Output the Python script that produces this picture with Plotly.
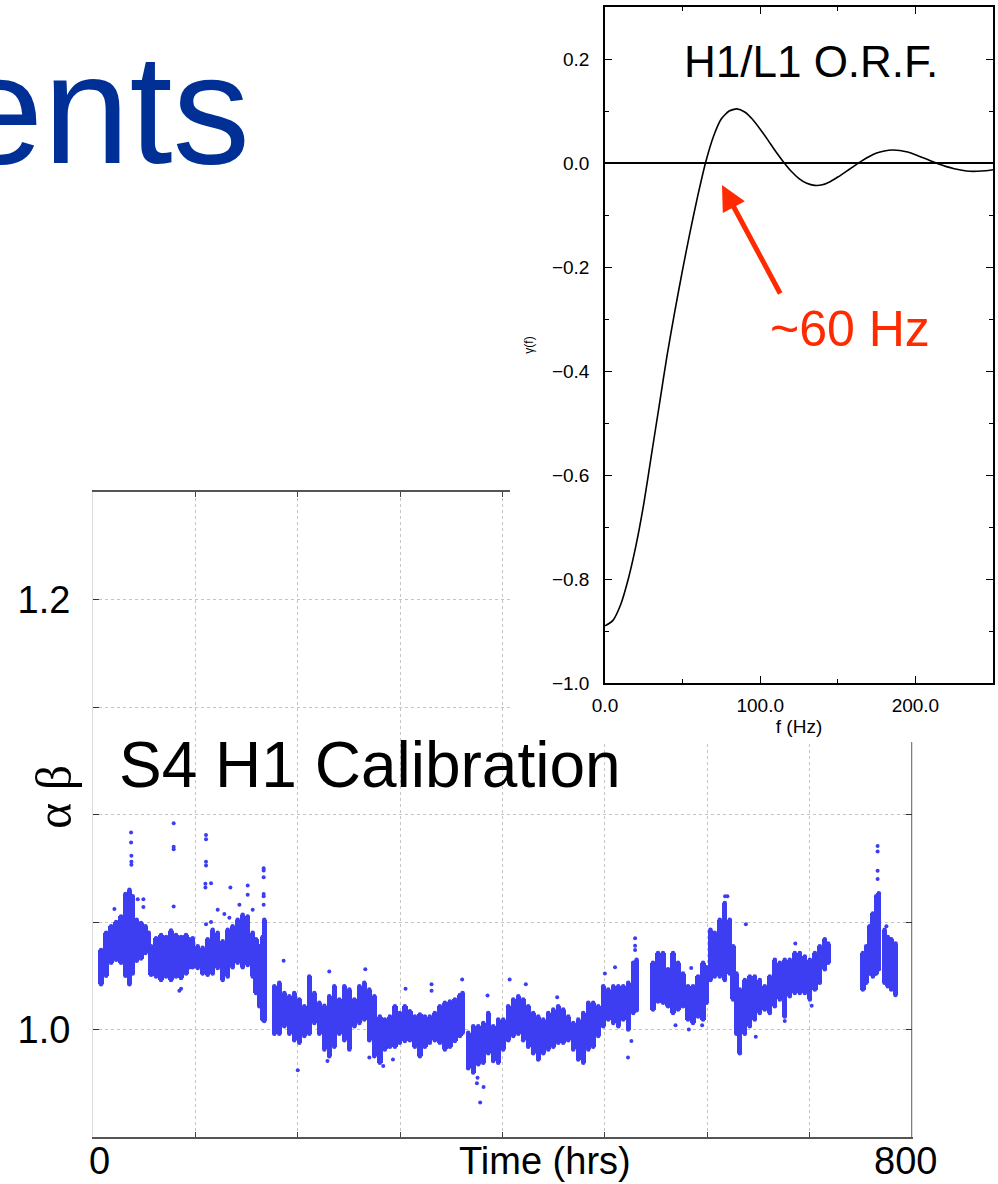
import plotly.graph_objects as go

# ---------------------------------------------------------------
# H1/L1 overlap reduction function gamma(f)
# ---------------------------------------------------------------
orf_freq = [0, 5, 10, 15, 20, 25, 30, 35, 40, 45, 50, 55, 60, 65, 70, 75, 80, 85,
            90, 95, 100, 105, 110, 115, 120, 125, 130, 135, 140, 145, 150, 155,
            160, 165, 170, 175, 180, 185, 190, 195, 200, 205, 210, 215, 220, 225,
            230, 235, 240, 245, 250]
orf_gamma = [-0.890, -0.880, -0.850, -0.800, -0.735, -0.655, -0.560, -0.465, -0.370,
             -0.285, -0.205, -0.130, -0.060, 0.003, 0.052, 0.085, 0.100, 0.104,
             0.098, 0.084, 0.065, 0.044, 0.022, 0.002, -0.016, -0.030, -0.039,
             -0.043, -0.042, -0.036, -0.027, -0.017, -0.007, 0.003, 0.012, 0.019,
             0.023, 0.025, 0.024, 0.021, 0.016, 0.010, 0.004, -0.002, -0.007,
             -0.011, -0.014, -0.016, -0.016, -0.015, -0.013]
orf_yticks = [-1.0, -0.8, -0.6, -0.4, -0.2, 0.0, 0.2]
orf_xticks = [0, 100, 200]

# ---------------------------------------------------------------
# S4 H1 calibration factor: envelope of the dense scatter per time bin
# ---------------------------------------------------------------
cal_hours = [7.9, 12.8, 17.7, 22.6, 27.4, 31.7, 35.6, 38.8, 42.7, 46.9, 51.2, 54.4,
             56.7, 61.6, 66.5, 71.4, 76.2, 81.1, 86.0, 90.9, 94.1,
             97.4, 102.3, 107.1, 112.0, 116.9, 121.8, 126.7, 131.6, 136.4, 141.3,
             146.2, 151.1, 156.0, 159.2, 162.5, 165.7, 167.3,
             177.1, 182.0, 186.9, 191.8, 196.6, 201.5, 206.4, 211.3, 216.2, 221.1,
             226.0, 230.8, 235.7, 240.6, 245.5, 250.4, 255.3, 260.2, 265.0, 269.9,
             274.8, 280.2, 285.1, 290.0, 294.9, 299.7, 304.6, 309.5, 314.4, 319.3,
             324.2, 329.0, 333.9, 338.8, 343.7, 348.6, 353.5, 358.4, 361.0,
             366.5, 371.4, 376.3, 381.2, 386.1, 390.9, 395.8, 400.7, 405.6, 410.5,
             415.4, 420.2, 425.1, 430.0, 434.9, 439.8, 444.7, 449.6, 454.4, 459.3,
             464.2, 469.1, 474.0, 478.9, 483.8, 488.6, 493.5, 498.4, 503.3, 508.2,
             513.1, 517.9, 522.8, 527.7, 531.0,
             547.0, 551.9, 556.8, 561.7, 566.6, 571.5, 576.3, 581.2, 586.1, 591.0,
             595.9, 599.2, 603.1, 607.3, 612.2, 617.1, 622.0, 625.3, 628.5, 631.8,
             636.7, 641.5, 646.4, 651.3, 656.2, 661.1, 666.0, 670.9, 675.7, 680.6,
             685.5, 690.4, 695.3, 700.2, 705.1, 709.9, 714.8, 718.1,
             752.0, 755.3, 758.5, 761.8, 765.0, 767.6, 773.2, 776.4, 779.7, 783.9]
cal_low = [1.021, 1.025, 1.031, 1.0325, 1.031, 1.025, 1.021, 1.026, 1.032, 1.033, 1.0356, 1.0364,
           1.0255, 1.0247, 1.023, 1.0247, 1.023, 1.0247, 1.024, 1.026, 1.029,
           1.029, 1.0286, 1.026, 1.0255, 1.026, 1.0286, 1.023, 1.0247, 1.029, 1.031,
           1.029, 1.030, 1.0247, 1.017, 1.0108, 1.0046, 1.004,
           0.998, 0.998, 1.0015, 0.998, 0.995, 0.9938, 0.997, 0.998, 1.003, 0.998,
           0.9907, 0.9876, 0.992, 0.998, 0.995, 0.9907, 1.0015, 1.003, 1.0046, 0.995,
           0.9876, 0.9845, 0.9907, 0.992, 0.992, 0.9938, 0.9946, 0.995, 0.992, 0.9876,
           0.992, 0.9938, 0.995, 0.9938, 0.9907, 0.992, 0.9946, 0.997, 0.9985,
           0.982, 0.980, 0.9838, 0.9845, 0.989, 0.9853, 0.9845, 0.9907, 0.995, 0.997,
           0.998, 0.995, 0.992, 0.989, 0.986, 0.989, 0.9907, 0.992, 0.9938, 0.9938,
           0.995, 0.9907, 0.986, 0.9845, 0.9907, 0.992, 0.997, 1.0015, 1.0046, 1.003,
           1.0015, 1.0046, 1.000, 1.0077, 1.009,
           1.0093, 1.013, 1.0124, 1.0108, 1.0077, 1.0093, 1.0108, 1.0046, 1.003, 1.006,
           1.0046, 1.0124, 1.023, 1.0247, 1.0247, 1.023, 1.026, 1.014, 0.998, 0.989,
           0.998, 1.0015, 1.0046, 1.0077, 1.0093, 1.0077, 1.0108, 1.014, 1.006, 1.0155,
           1.017, 1.017, 1.017, 1.014, 1.0186, 1.0217, 1.028, 1.031,
           1.0186, 1.0217, 1.026, 1.0247, 1.026, 1.028, 1.0217, 1.0201, 1.0186, 1.016]
cal_high = [1.037, 1.045, 1.048, 1.050, 1.0526, 1.063, 1.065, 1.062, 1.051, 1.0495, 1.048, 1.045,
            1.0387, 1.0425, 1.044, 1.043, 1.046, 1.044, 1.043, 1.044, 1.042,
            1.0425, 1.0387, 1.038, 1.042, 1.0464, 1.045, 1.041, 1.0464, 1.048, 1.051,
            1.0534, 1.0526, 1.045, 1.042, 1.0387, 1.043, 1.051,
            1.0201, 1.0217, 1.017, 1.0155, 1.017, 1.014, 1.0108, 1.0247, 1.017, 1.0124,
            1.011, 1.0155, 1.0201, 1.014, 1.0201, 1.0186, 1.014, 1.0201, 1.0217, 1.0186,
            1.0155, 1.006, 1.0046, 1.006, 1.0108, 1.0077, 1.0108, 1.0085, 1.006, 1.007,
            1.006, 1.006, 1.0077, 1.0108, 1.0124, 1.013, 1.014, 1.016, 1.017,
            0.9985, 1.0015, 1.0015, 1.003, 1.0077, 1.0015, 1.0046, 1.0046, 1.0108, 1.014,
            1.0155, 1.014, 1.0108, 1.0077, 1.006, 1.0046, 1.0077, 1.0093, 1.0108, 1.0093,
            1.006, 1.003, 1.0046, 1.0077, 1.0124, 1.0124, 1.0108, 1.0201, 1.0186, 1.0201,
            1.0201, 1.0201, 1.0217, 1.031, 1.0325,
            1.031, 1.0356, 1.0356, 1.028, 1.0356, 1.031, 1.026, 1.0201, 1.0201, 1.0247,
            1.031, 1.029, 1.0464, 1.045, 1.051, 1.0588, 1.051, 1.0387, 1.026, 1.0186,
            1.023, 1.0247, 1.0247, 1.023, 1.0201, 1.0247, 1.0325, 1.031, 1.0325, 1.0325,
            1.0356, 1.0356, 1.034, 1.0325, 1.0356, 1.0387, 1.042, 1.040,
            1.0356, 1.0387, 1.048, 1.054, 1.062, 1.0634, 1.0464, 1.043, 1.042, 1.040]

# isolated excursions outside the main band
outlier_hours = [37.2, 37.2, 37.5, 37.5, 37.5, 78.8, 78.8, 78.8, 78.8,
                 110.4, 110.4, 110.4, 110.4, 109.8, 109.8, 115.3, 134.2, 151.1, 151.1,
                 166.7, 166.7, 166.7, 166.7, 166.7, 166.7, 20.9, 43.7, 49.2, 49.2,
                 121.8, 110.4, 115.3, 143.0, 156.0, 128.3, 133.2, 86.0, 84.4,
                 186.2, 200.0, 230.8, 266.0, 229.0, 269.9,
                 378.2, 381.5, 375.0, 375.6, 385.4, 360.6, 330.7, 330.7, 305.3, 407.0,
                 422.8, 453.4, 522.6, 525.9, 529.5, 529.5, 529.5, 509.9, 500.0, 293.0, 283.5,
                 766.4, 766.4, 766.4, 766.4, 619.7, 617.4, 637.7, 647.4, 582.0, 569.0,
                 595.0, 702.0, 584.3, 775.0, 686.0, 675.7]
outlier_values = [1.0916, 1.087, 1.0808, 1.078, 1.0766, 1.0959, 1.085, 1.0838, 1.0572,
                  1.0905, 1.0885, 1.078, 1.0763, 1.0678, 1.066, 1.068, 1.066, 1.067, 1.0627,
                  1.075, 1.074, 1.0708, 1.063, 1.062, 1.058, 1.056, 1.0606, 1.0606, 1.057,
                  1.0557, 1.049, 1.050, 1.058, 1.0557, 1.0537, 1.052, 1.019, 1.018,
                  1.032, 0.981, 1.027, 1.028, 0.9853, 0.987,
                  0.966, 0.9732, 0.975, 0.9776, 1.0158, 1.0232, 1.021, 1.018, 1.019, 1.0232,
                  1.021, 1.015, 0.987, 0.9946, 1.0425, 1.039, 1.037, 1.029, 1.026, 0.986, 0.983,
                  1.0854, 1.0828, 1.0738, 1.070, 1.062, 1.062, 1.049, 0.9966, 1.000, 1.002,
                  1.002, 1.011, 1.0286, 1.048, 1.040, 1.004]
cal_yticks = [1.0, 1.2]
cal_xlabels = ["0", "800"]

W, H = 998, 1184
SANS = "Liberation Sans, Arial, Helvetica, sans-serif"
DOT_BLUE = "#3d3df2"
RED = "#ff2a00"


def px(x):
    return x / W


def py(y):
    return 1 - y / H


fig = go.Figure()

# calibration band (bars spanning low..high of each bin)
fig.add_trace(go.Bar(
    x=cal_hours,
    y=[h - l for h, l in zip(cal_high, cal_low)],
    base=cal_low,
    width=5.2,
    marker=dict(color=DOT_BLUE, line=dict(width=0)),
    xaxis="x", yaxis="y", showlegend=False, hoverinfo="skip",
))
# dots on the band edges soften the outline of each bin
fig.add_trace(go.Scatter(
    x=cal_hours + cal_hours, y=cal_high + cal_low, mode="markers",
    marker=dict(color=DOT_BLUE, size=4.5, line=dict(width=0)),
    xaxis="x", yaxis="y", showlegend=False, hoverinfo="skip",
))
fig.add_trace(go.Scatter(
    x=outlier_hours, y=outlier_values, mode="markers",
    marker=dict(color=DOT_BLUE, size=4, line=dict(width=0)),
    xaxis="x", yaxis="y", showlegend=False,
))

# empty panel whose white background sits behind the O.R.F. inset
fig.add_trace(go.Scatter(x=[], y=[], xaxis="x2", yaxis="y2",
                         showlegend=False, hoverinfo="skip"))

# overlap reduction function
fig.add_trace(go.Scatter(
    x=orf_freq, y=orf_gamma, mode="lines",
    line=dict(color="black", width=1.6, shape="spline", smoothing=0.6),
    xaxis="x3", yaxis="y3", showlegend=False,
))

grid = dict(gridcolor="#c4c4c4", griddash="dot", gridwidth=1)

fig.update_layout(
    template="none",
    width=W, height=H,
    margin=dict(l=0, r=0, t=0, b=0, pad=0, autoexpand=False),
    paper_bgcolor="white", plot_bgcolor="white",
    font=dict(family=SANS, color="black"),
    bargap=0,
    xaxis=dict(
        domain=[px(93), px(912)], range=[0, 800], anchor="y", automargin=False,
        dtick=100, tick0=0, showticklabels=False,
        ticks="inside", ticklen=5, tickcolor="#444",
        showgrid=True, zeroline=False, **grid,
        showline=True, linecolor="#555", linewidth=1.5, mirror="allticks",
    ),
    yaxis=dict(
        domain=[py(1137), py(492)], range=[0.95, 1.25], anchor="x", automargin=False,
        tickvals=cal_yticks, ticktext=["%.1f" % v for v in cal_yticks],
        tickfont=dict(size=38, family=SANS), ticks="inside", ticklen=6,
        tickcolor="#333", ticklabelstandoff=14,
        showgrid=True, zeroline=False, **grid,
        showline=True, linecolor="#dcdcdc", linewidth=1, mirror="allticks",
        minor=dict(dtick=0.05, tick0=1.0, ticks="inside", ticklen=6,
                   tickcolor="#333", showgrid=True, **grid),
    ),
    xaxis2=dict(domain=[px(510), 1.0], range=[0, 1], anchor="y2", visible=False,
                automargin=False),
    yaxis2=dict(domain=[py(742), 1.0], range=[0, 1], anchor="x2", visible=False,
                automargin=False),
    xaxis3=dict(
        domain=[px(605), px(993)], range=[0, 250], anchor="y3", automargin=False,
        tickvals=orf_xticks, tickformat=".1f",
        tickfont=dict(size=19, family=SANS), ticks="inside", ticklen=7,
        tickcolor="black", ticklabelstandoff=4,
        showgrid=False, zeroline=False,
        showline=True, linecolor="black", linewidth=1.5, mirror="allticks",
        minor=dict(dtick=50, tick0=0, ticks="inside", ticklen=4, tickcolor="black"),
        title=dict(text="f (Hz)", font=dict(size=19, family=SANS), standoff=4),
    ),
    yaxis3=dict(
        domain=[py(683), py(7)], range=[-1.0, 0.3], anchor="x3", automargin=False,
        tickvals=orf_yticks, tickformat=".1f",
        tickfont=dict(size=19, family=SANS), ticks="inside", ticklen=7,
        tickcolor="black", ticklabelstandoff=10,
        showgrid=False,
        zeroline=True, zerolinecolor="black", zerolinewidth=1.5,
        showline=True, linecolor="black", linewidth=1.5, mirror="allticks",
        minor=dict(dtick=0.1, tick0=0, ticks="inside", ticklen=4, tickcolor="black"),
        title=dict(text="γ(f)", font=dict(size=12, family=SANS), standoff=16),
    ),
    shapes=[
        # darker right-hand frame of the calibration panel
        dict(type="line", xref="x domain", yref="y domain", layer="below",
             x0=1, x1=1, y0=0, y1=1, line=dict(color="#555", width=1.5)),
    ],
    annotations=[
        dict(text="ents", x=px(252), y=py(109), xref="paper", yref="paper",
             xanchor="right", yanchor="middle", showarrow=False,
             font=dict(size=155, color="#003096", family=SANS)),
        dict(text="H1/L1 O.R.F.", x=px(811), y=py(61), xref="paper", yref="paper",
             xanchor="center", yanchor="middle", showarrow=False,
             font=dict(size=44, color="black", family=SANS)),
        dict(text="~60 Hz", x=px(850), y=py(329), xref="paper", yref="paper",
             xanchor="center", yanchor="middle", showarrow=False,
             font=dict(size=50, color=RED, family=SANS)),
        dict(text="", x=px(722), y=py(185), xref="paper", yref="paper",
             ax=59, ay=110, showarrow=True, arrowhead=2, arrowsize=1.0,
             arrowwidth=5, arrowcolor=RED, standoff=0),
        dict(text="S4 H1 Calibration", x=px(370), y=py(765), xref="paper", yref="paper",
             xanchor="center", yanchor="middle", showarrow=False,
             font=dict(size=64, color="black", family=SANS)),
        dict(text="α β", x=px(54), y=py(797), xref="paper", yref="paper",
             xanchor="center", yanchor="middle", showarrow=False, textangle=-90,
             font=dict(size=50, color="black", family="Liberation Serif, serif")),
        dict(text=cal_xlabels[0], x=px(99), y=py(1161), xref="paper", yref="paper",
             xanchor="center", yanchor="middle", showarrow=False,
             font=dict(size=38, color="black", family=SANS)),
        dict(text=cal_xlabels[1], x=px(905), y=py(1161), xref="paper", yref="paper",
             xanchor="center", yanchor="middle", showarrow=False,
             font=dict(size=38, color="black", family=SANS)),
        dict(text="Time (hrs)", x=px(545), y=py(1161), xref="paper", yref="paper",
             xanchor="center", yanchor="middle", showarrow=False,
             font=dict(size=38, color="black", family=SANS)),
    ],
)

fig.write_html("out.html")
